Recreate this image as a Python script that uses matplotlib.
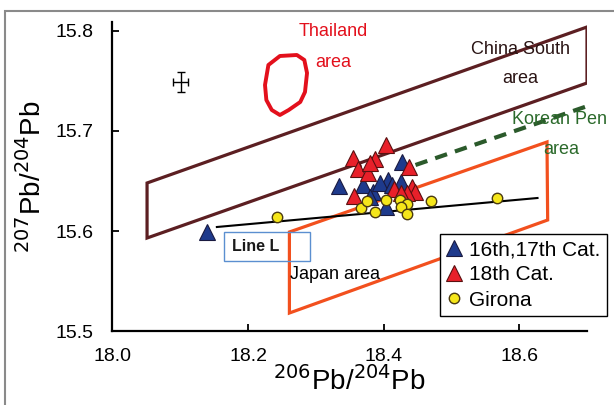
import numpy as np
import matplotlib
matplotlib.use('Agg')
import matplotlib.pyplot as plt
from matplotlib.patches import Polygon, Rectangle

plt.rcParams['font.family'] = ['Liberation Sans', 'DejaVu Sans']

# 16th,17th Cat. (blue triangles)
cat16_x = [18.140, 18.334, 18.427, 18.370, 18.385, 18.407, 18.395, 18.425, 18.412, 18.380, 18.403]
cat16_y = [15.599, 15.645, 15.669, 15.646, 15.639, 15.651, 15.648, 15.649, 15.646, 15.634, 15.624]

# 18th Cat. (red triangles)
cat18_x = [18.404, 18.355, 18.387, 18.362, 18.377, 18.438, 18.356, 18.415, 18.442, 18.447, 18.435, 18.380, 18.425]
cat18_y = [15.686, 15.673, 15.672, 15.662, 15.658, 15.664, 15.635, 15.642, 15.644, 15.639, 15.638, 15.668, 15.638]

# Girona (yellow circles)
girona_x = [18.243, 18.366, 18.375, 18.387, 18.404, 18.424, 18.434, 18.425, 18.435, 18.470, 18.567]
girona_y = [15.614, 15.623, 15.630, 15.619, 15.631, 15.631, 15.627, 15.624, 15.617, 15.630, 15.633]

# field outlines
china_x = [18.051, 18.051, 18.700, 18.700]
china_y = [15.593, 15.648, 15.804, 15.748]
japan_x = [18.261, 18.261, 18.641, 18.642]
japan_y = [15.518, 15.599, 15.689, 15.611]
korea_x = [18.447, 18.701]
korea_y = [15.666, 15.725]
thai_x = [18.230, 18.247, 18.272, 18.283, 18.287, 18.284, 18.277, 18.260, 18.247, 18.235, 18.227, 18.225, 18.228]
thai_y = [15.766, 15.775, 15.776, 15.771, 15.758, 15.739, 15.729, 15.721, 15.716, 15.721, 15.731, 15.746, 15.758]
lineL_x = [18.154, 18.627]
lineL_y = [15.604, 15.633]

# analytical error cross
err_x, err_y = 18.101, 15.749
err_dx, err_dy = 0.011, 0.010

xticks = [18.0, 18.2, 18.4, 18.6]
yticks = [15.5, 15.6, 15.7, 15.8]

fig = plt.figure(figsize=(6.14, 4.05), dpi=100)
ax = fig.add_axes([0.1832, 0.1827, 0.7728, 0.763])

ax.add_patch(Polygon(np.column_stack([china_x, china_y]), closed=True, fill=False,
                     edgecolor='#5c1f22', linewidth=2.3))
ax.add_patch(Polygon(np.column_stack([japan_x, japan_y]), closed=True, fill=False,
                     edgecolor='#f2501e', linewidth=2.3))
ax.add_patch(Polygon(np.column_stack([thai_x, thai_y]), closed=True, fill=False,
                     edgecolor='#e3101c', linewidth=2.8, joinstyle='round'))
ax.plot(korea_x, korea_y, color='#2b5a2b', linewidth=3, dashes=(3, 2))
ax.plot(lineL_x, lineL_y, color='black', linewidth=1.5)

ax.errorbar(err_x, err_y, xerr=err_dx, yerr=err_dy, fmt='none', ecolor='black',
            elinewidth=1, capsize=3, capthick=1)

ax.plot(cat16_x, cat16_y, '^', ms=11, color='#1e3a8c', mec='#1a1a40', mew=0.8,
        linestyle='none', label='16th,17th Cat.')
ax.plot(cat18_x, cat18_y, '^', ms=11, color='#e8202a', mec='#5a1010', mew=0.8,
        linestyle='none', label='18th Cat.')
ax.plot(girona_x, girona_y, 'o', ms=7.5, color='#f5e61a', mec='#4a3a10', mew=1,
        linestyle='none', label='Girona')

# area labels
ax.text(18.326, 15.799, 'Thailand', color='#e3101c', fontsize=13, ha='center', va='center')
ax.text(18.326, 15.768, 'area', color='#e3101c', fontsize=13, ha='center', va='center')
ax.text(18.602, 15.781, 'China South', color='#2a1414', fontsize=13, ha='center', va='center')
ax.text(18.602, 15.752, 'area', color='#2a1414', fontsize=13, ha='center', va='center')
ax.text(18.590, 15.711, 'Korean Pen', color='#2b6a2b', fontsize=13, ha='left', va='center',
        clip_on=False)
ax.text(18.662, 15.681, 'area', color='#2b6a2b', fontsize=13, ha='center', va='center')
ax.text(18.262, 15.557, 'Japan area', color='black', fontsize=13, ha='left', va='center')

ax.add_patch(Rectangle((18.164, 15.570), 0.127, 0.029, fill=False,
                       edgecolor='#5b8fd0', linewidth=1))
ax.text(18.176, 15.585, 'Line L', fontsize=11.5, fontweight='bold', color='#1a1a1a',
        ha='left', va='center')

ax.set_xlim(18.0, 18.7)
ax.set_ylim(15.5, 15.809)
ax.set_xticks(xticks)
ax.set_yticks(yticks)
ax.set_xticklabels(['%.1f' % t for t in xticks])
ax.set_yticklabels(['%.1f' % t for t in yticks])
ax.tick_params(direction='in', length=5, width=1.3, labelsize=14)
ax.tick_params(axis='x', pad=12)
ax.tick_params(axis='y', pad=14)
for s in ['top', 'right']:
    ax.spines[s].set_visible(False)
for s in ['left', 'bottom']:
    ax.spines[s].set_linewidth(1.6)

ax.set_xlabel('$^{206}$Pb/$^{204}$Pb', fontsize=20, labelpad=1)
ax.set_ylabel('$^{207}$Pb/$^{204}$Pb', fontsize=20, labelpad=6)

leg = ax.legend(loc='upper left', bbox_to_anchor=(0.69, 0.314), borderaxespad=0,
                fontsize=15, frameon=True, fancybox=False, framealpha=1,
                edgecolor='black', borderpad=0.3, labelspacing=0.3,
                handlelength=0.8, handletextpad=0.3)
leg.get_frame().set_linewidth(1)

# scan frame
fig.add_artist(Rectangle((0.008, -0.1), 1.2, 0.973 + 0.1, transform=fig.transFigure,
                         fill=False, edgecolor='#8a8a8a', linewidth=1.5))

fig.savefig('out.png', dpi=100)
